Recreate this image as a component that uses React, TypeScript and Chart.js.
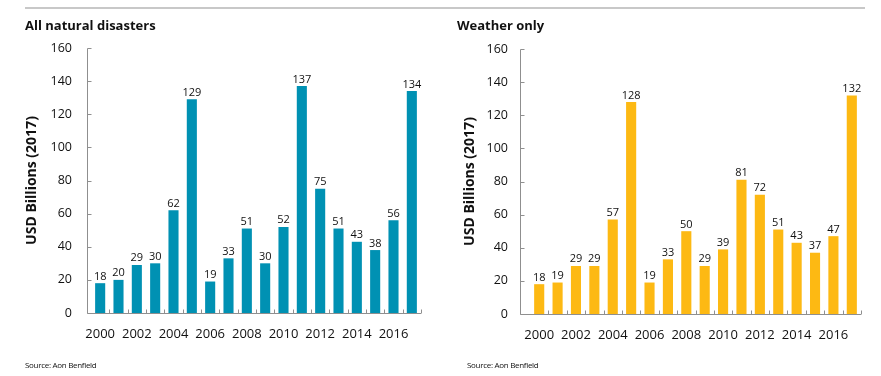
import React, { useEffect, useRef } from "react";
import { Chart, registerables } from "chart.js";

Chart.register(...registerables);

const years = ["2000","2001","2002","2003","2004","2005","2006","2007","2008","2009","2010","2011","2012","2013","2014","2015","2016","2017"];
const allDisasters = [18, 20, 29, 30, 62, 129, 19, 33, 51, 30, 52, 137, 75, 51, 43, 38, 56, 134];
const weatherOnly = [18, 19, 29, 29, 57, 128, 19, 33, 50, 29, 39, 81, 72, 51, 43, 37, 47, 132];
const yTicks = [0, 20, 40, 60, 80, 100, 120, 140, 160];
const leftTitle = "All natural disasters";
const rightTitle = "Weather only";
const yAxisTitle = "USD Billions (2017)";
const sourceText = "Source: Aon Benfield";

const FONT = "'Open Sans', 'Noto Sans', sans-serif";
const TEXT = "#111111";
const AXIS = "#8f8f8f";

function makeDecor(gap: number) {
  return {
    id: "axisDecor",
    afterDatasetsDraw(chart: any) {
      const { ctx, chartArea, scales } = chart;
      const xs = scales.x;
      const ys = scales.y;
      const ax = Math.round(chartArea.left - gap) + 0.5;
      const y0 = Math.round(ys.getPixelForValue(0)) + 0.5;
      const yTop = Math.round(ys.getPixelForValue(yTicks[yTicks.length - 1])) + 0.5;
      ctx.save();
      ctx.strokeStyle = AXIS;
      ctx.lineWidth = 1;
      ctx.beginPath();
      ctx.moveTo(ax, yTop);
      ctx.lineTo(ax, y0);
      ctx.lineTo(chartArea.right, y0);
      for (const v of yTicks) {
        const py = Math.round(ys.getPixelForValue(v)) + 0.5;
        ctx.moveTo(ax, py);
        ctx.lineTo(ax + 4, py);
      }
      const half = (xs.getPixelForValue(1) - xs.getPixelForValue(0)) / 2;
      for (let i = 1; i <= years.length; i++) {
        const px = Math.round(xs.getPixelForValue(i - 1) + half) + 0.5;
        ctx.moveTo(px, y0);
        ctx.lineTo(px, y0 - 4);
      }
      ctx.stroke();
      // value labels
      ctx.fillStyle = TEXT;
      ctx.font = `11px ${FONT}`;
      ctx.textAlign = "center";
      ctx.textBaseline = "alphabetic";
      const meta = chart.getDatasetMeta(0);
      const data = chart.data.datasets[0].data;
      meta.data.forEach((bar: any, i: number) => {
        ctx.fillText(String(data[i]), bar.x, bar.y - 3.5);
      });
      ctx.restore();
    },
  };
}

function BarPanel(props: {
  values: number[];
  color: string;
  padding: { left: number; top: number; right: number; bottom: number };
  yWidth: number;
  gap: number;
  tickPad: number;
  width: number;
}) {
  const ref = useRef<HTMLCanvasElement | null>(null);
  useEffect(() => {
    if (!ref.current) return;
    const chart = new Chart(ref.current, {
      type: "bar",
      data: {
        labels: years,
        datasets: [
          {
            data: props.values,
            backgroundColor: props.color,
            barPercentage: 0.55,
            categoryPercentage: 1.0,
          },
        ],
      },
      options: {
        animation: false,
        responsive: false,
        devicePixelRatio: 1,
        layout: { padding: props.padding },
        plugins: { legend: { display: false }, tooltip: { enabled: false }, title: { display: false } },
        scales: {
          x: {
            grid: { display: false },
            border: { display: false },
            ticks: {
              autoSkip: false,
              maxRotation: 0,
              minRotation: 0,
              padding: 5,
              color: TEXT,
              font: { family: FONT, size: 13 },
              callback: (_v: any, i: number) => (i % 2 === 0 ? years[i] : ""),
            },
            afterFit: (s: any) => {
              s.height = 30;
            },
          },
          y: {
            min: 0,
            max: 160,
            grid: { display: false },
            border: { display: false },
            ticks: {
              stepSize: 20,
              padding: props.tickPad,
              color: TEXT,
              font: { family: FONT, size: 12.5 },
            },
            title: {
              display: true,
              text: yAxisTitle,
              color: TEXT,
              padding: 0,
              font: { family: FONT, size: 14, weight: "bold" },
            },
            afterFit: (s: any) => {
              s.width = props.yWidth;
            },
          },
        },
      },
      plugins: [makeDecor(props.gap)],
    } as any);
    return () => chart.destroy();
  }, []);
  return <canvas ref={ref} width={props.width} height={376} style={{ width: props.width, height: 376, display: "block" }} />;
}

const titleStyle: React.CSSProperties = {
  position: "absolute",
  fontFamily: FONT,
  fontWeight: 700,
  fontSize: 13,
  lineHeight: "13px",
  color: TEXT,
  whiteSpace: "nowrap",
};

const sourceStyle: React.CSSProperties = {
  position: "absolute",
  fontFamily: FONT,
  fontSize: 8,
  lineHeight: "8px",
  letterSpacing: "-0.3px",
  color: TEXT,
  whiteSpace: "nowrap",
};

export default function App() {
  useEffect(() => {
    document.body.style.margin = "0";
  }, []);
  return (
    <div style={{ position: "fixed", left: 0, top: 0, width: 881, height: 376, background: "#fff", overflow: "hidden" }}>
      <div style={{ position: "absolute", left: 0, top: 0 }}>
        <BarPanel values={allDisasters} color="#0091b3" padding={{ left: 24, top: 48, right: 19, bottom: 33 }} yWidth={67} gap={4.5} tickPad={11} width={440} />
      </div>
      <div style={{ position: "absolute", left: 440, top: 0 }}>
        <BarPanel values={weatherOnly} color="#fdb913" padding={{ left: 22, top: 49, right: 20, bottom: 32 }} yWidth={68} gap={10} tickPad={14} width={441} />
      </div>
      <div style={{ position: "absolute", left: 25, top: 7, width: 840, height: 2, background: "#c8c8c8" }} />
      <div style={{ ...titleStyle, left: 25, top: 18.5 }}>{leftTitle}</div>
      <div style={{ ...titleStyle, left: 457, top: 18.5 }}>{rightTitle}</div>
      <div style={{ ...sourceStyle, left: 25, top: 361 }}>{sourceText}</div>
      <div style={{ ...sourceStyle, left: 467, top: 361 }}>{sourceText}</div>
    </div>
  );
}
